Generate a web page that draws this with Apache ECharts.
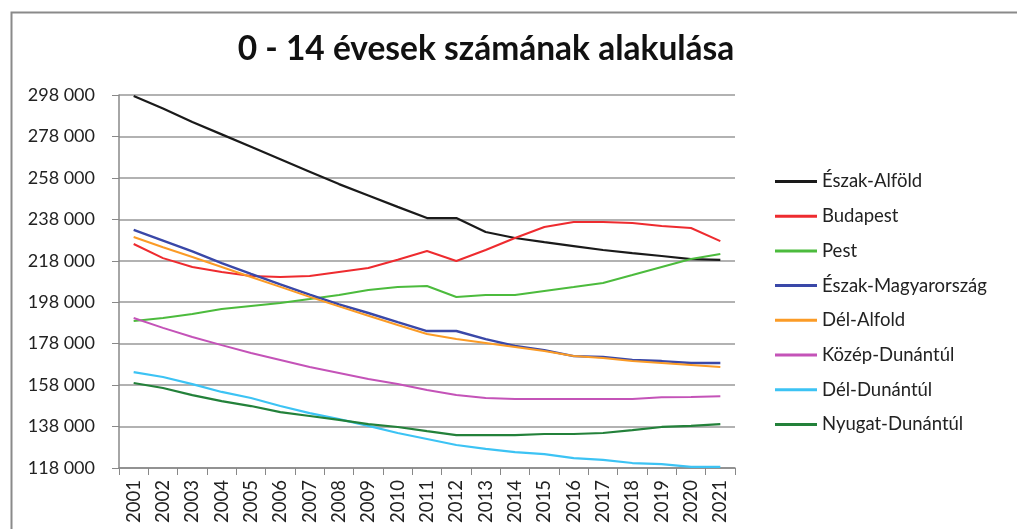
<!DOCTYPE html>
<html><head><meta charset="utf-8">
<script src="https://cdn.jsdelivr.net/npm/echarts@6/dist/echarts.min.js"></script>
<style>html,body{margin:0;padding:0;background:#fff}#c{width:1017px;height:529px}</style>
</head><body><div id="c"></div>
<script>
const years = ['2001','2002','2003','2004','2005','2006','2007','2008','2009','2010','2011','2012','2013','2014','2015','2016','2017','2018','2019','2020','2021'];
const yTicks = [118000,138000,158000,178000,198000,218000,238000,258000,278000,298000];
const eszakAlfold = [297500,291500,285000,279000,273000,267000,261000,255000,249500,244000,238600,238600,231900,229000,227000,225100,223200,221700,220300,218800,218400];
const budapest = [226100,219300,215000,212600,210600,210200,210600,212600,214500,218500,222700,217900,223200,229000,234300,236700,236700,236200,234800,233800,227500];
const pest = [188900,190400,192300,194700,196200,197600,199500,201500,203900,205300,205800,200500,201500,201500,203400,205300,207300,211100,215000,218900,221300];
const eszakMagyar = [232900,227700,222500,216900,211700,206600,201700,197000,192800,188400,184100,184100,180200,176900,174900,172000,171600,170100,169600,168700,168700];
const delAlfold = [229500,224500,219800,215000,210200,205400,200600,196000,191500,187000,182700,180200,178300,176400,174500,172000,171100,169600,168700,167700,166700];
const kozepDunantul = [190400,185600,181200,177300,173500,170100,166700,163800,160900,158500,155600,153200,151800,151300,151300,151300,151300,151300,152100,152300,152600];
const delDunantul = [164300,161900,158500,154700,151800,147900,144500,141600,138300,134900,132000,129100,127200,125700,124700,122800,121900,120400,119900,118500,118500];
const nyugatDunantul = [159000,156600,153200,150300,147900,145000,143100,141200,139200,137800,135800,133900,133900,133900,134400,134400,134900,136300,137800,138300,139200];

const seriesDefs = [
  ['Észak-Alföld', eszakAlfold, '#1a1a1a', 2.2],
  ['Budapest', budapest, '#ee2b2f', 2],
  ['Pest', pest, '#4cbb3d', 2],
  ['Észak-Magyarország', eszakMagyar, '#3a48a8', 2.4],
  ['Dél-Alfold', delAlfold, '#fb9b26', 2],
  ['Közép-Dunántúl', kozepDunantul, '#c453b8', 2],
  ['Dél-Dunántúl', delDunantul, '#3cc3f4', 2.2],
  ['Nyugat-Dunántúl', nyugatDunantul, '#23813a', 2.2]
];

const chart = echarts.init(document.getElementById('c'), null, {renderer:'canvas'});
const fmt = v => { const s = String(v); return s.slice(0, s.length-3) + ' ' + s.slice(-3); };
chart.setOption({
  animation: false,
  backgroundColor: '#fff',
  textStyle: {fontFamily: 'Lato'},
  title: {
    text: '0 - 14 évesek számának alakulása',
    left: 481, top: 27, textAlign: 'center',
    textStyle: {fontFamily: 'Lato', fontWeight: 'bold', fontSize: 33.5, color: '#111'}
  },
  graphic: [{
    type: 'rect', left: 9, top: 10, shape: {width: 1100, height: 700},
    style: {fill: 'none', stroke: '#8a8a8a', lineWidth: 2}, silent: true
  }],
  legend: {
    orient: 'vertical', left: 770, top: 167, itemGap: 15.7,
    itemWidth: 42, itemHeight: 3,
    icon: 'rect',
    textStyle: {fontFamily: 'Lato', fontSize: 18.5, color: '#222'},
    data: seriesDefs.map(d => ({name: d[0], itemStyle: {color: d[2]}}))
  },
  grid: {left: 119, right: 1017-735, top: 95, bottom: 529-468, containLabel: false},
  xAxis: {
    type: 'category', data: years, boundaryGap: true,
    axisLine: {lineStyle: {color: '#888', width: 1.5}},
    axisTick: {show: true, length: 7, lineStyle: {color: '#888'}},
    axisLabel: {rotate: 90, color: '#222', fontSize: 18.5, fontFamily: 'Lato', margin: 12, interval: 0}
  },
  yAxis: {
    type: 'value', min: 118000, max: 298000, interval: 20000,
    axisLine: {show: true, lineStyle: {color: '#888', width: 1.5}},
    axisTick: {show: true, length: 7, lineStyle: {color: '#888'}},
    splitLine: {lineStyle: {color: '#999', width: 1.5}},
    axisLabel: {formatter: v => fmt(v), color: '#222', fontSize: 18, fontFamily: 'Lato', margin: 24}
  },
  series: seriesDefs.map(d => ({
    name: d[0], type: 'line', data: d[1], symbol: 'none', smooth: false,
    lineStyle: {color: d[2], width: d[3]}, itemStyle: {color: d[2]}
  }))
});
</script></body></html>
